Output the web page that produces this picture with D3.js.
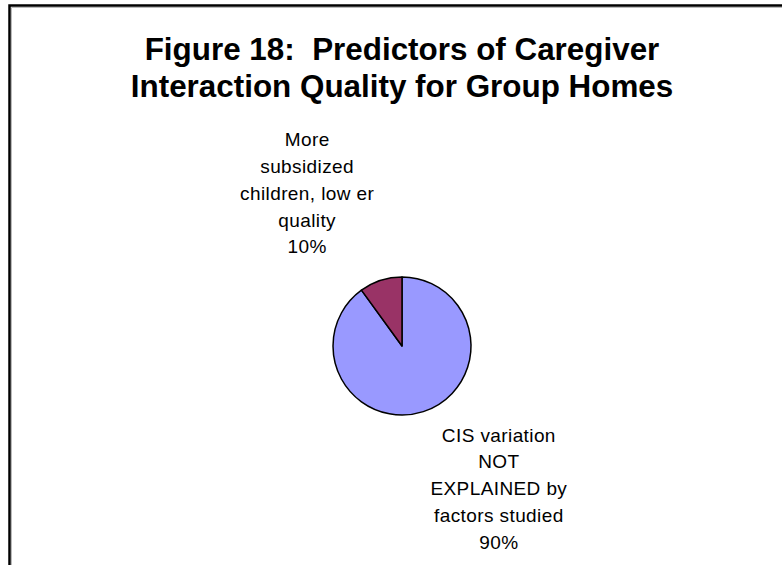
<!DOCTYPE html>
<html>
<head>
<meta charset="utf-8">
<script src="https://cdn.jsdelivr.net/npm/d3@7"></script>
<style>
  body { margin: 0; background: #fff; }
  text { font-family: "Liberation Sans", Arial, sans-serif; fill: #000; }
</style>
</head>
<body>
<div id="chart"></div>
<script>
var titleLines = ['Figure 18:  Predictors of Caregiver', 'Interaction Quality for Group Homes'];
var categories = ['CIS variation NOT EXPLAINED by factors studied', 'More subsidized children, lower quality'];
var values = [90, 10];
var labelLines = [
  ['CIS variation', 'NOT', 'EXPLAINED by', 'factors studied', '90%'],
  ['More', 'subsidized', 'children, low er', 'quality', '10%']
];
var colors = ['#9999ff', '#993366'];

var width = 782, height = 565;
var cx = 402, cy = 346, radius = 69;

var svg = d3.select('#chart').append('svg')
  .attr('width', width)
  .attr('height', height);

svg.append('rect')
  .attr('width', width)
  .attr('height', height)
  .attr('fill', '#fff');

// chart frame (right and bottom edges run off the page)
svg.append('path')
  .attr('d', 'M9.5,' + (height + 5) + 'V5.5H' + (width + 5))
  .attr('fill', 'none')
  .attr('stroke', '#000')
  .attr('stroke-width', 2.5);
svg.append('path')
  .attr('d', 'M11.5,' + (height + 5) + 'V7.5H' + (width + 5))
  .attr('fill', 'none')
  .attr('stroke', '#bbb')
  .attr('stroke-width', 1);

svg.selectAll('.title')
  .data(titleLines)
  .enter().append('text')
  .attr('class', 'title')
  .attr('x', cx)
  .attr('y', function (d, i) { return 60 + i * 37; })
  .attr('text-anchor', 'middle')
  .attr('xml:space', 'preserve')
  .style('white-space', 'pre')
  .style('font-size', '31.4px')
  .style('font-weight', 'bold')
  .text(function (d) { return d; });

var data = categories.map(function (c, i) { return { name: c, value: values[i], lines: labelLines[i], color: colors[i] }; });

var pie = d3.pie()
  .sort(null)
  .value(function (d) { return d.value; });

var arc = d3.arc()
  .innerRadius(0)
  .outerRadius(radius);

var g = svg.append('g')
  .attr('transform', 'translate(' + cx + ',' + cy + ')');

var arcs = pie(data);

g.selectAll('path')
  .data(arcs)
  .enter().append('path')
  .attr('d', arc)
  .attr('fill', function (d) { return d.data.color; })
  .attr('stroke', '#000')
  .attr('stroke-width', 1.5)
  .attr('stroke-linejoin', 'round');

// labels sit outside the pie, a bit counter-clockwise of each slice's middle
var labelRadius = 176, labelShift = -15 * Math.PI / 180, lineHeight = 26.7;

var labels = g.selectAll('.label')
  .data(arcs)
  .enter().append('text')
  .attr('class', 'label')
  .attr('text-anchor', 'middle')
  .style('font-size', '19px')
  .style('letter-spacing', '0.4px')
  .attr('transform', function (d) {
    var a = (d.startAngle + d.endAngle) / 2 + labelShift;
    var x = Math.sin(a) * labelRadius + 1;
    var y = -Math.cos(a) * labelRadius;
    var top = y - (d.data.lines.length - 1) * lineHeight / 2 + 1.5;
    return 'translate(' + x + ',' + top + ')';
  });

labels.selectAll('tspan')
  .data(function (d) { return d.data.lines; })
  .enter().append('tspan')
  .attr('x', 0)
  .attr('y', function (d, i) { return i * lineHeight; })
  .text(function (d) { return d; });
</script>
</body>
</html>
